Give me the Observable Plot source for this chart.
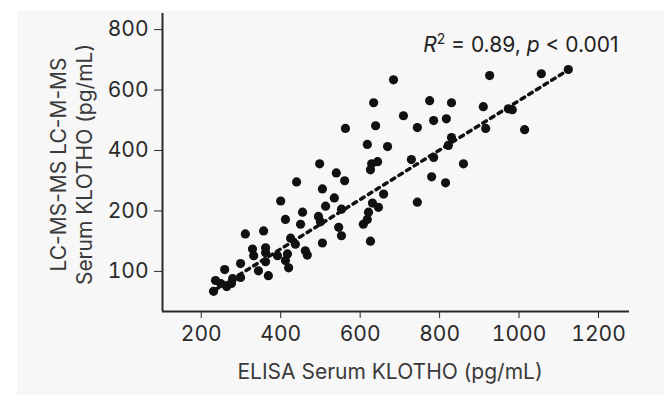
<!DOCTYPE html>
<html><head><meta charset="utf-8">
<script src="https://cdn.jsdelivr.net/npm/d3@7"></script>
<script src="https://cdn.jsdelivr.net/npm/@observablehq/plot@0.6"></script>
<style>
html,body{margin:0;padding:0;background:#fff;}
#wrap{position:relative;width:664px;height:396px;overflow:hidden;}
#panel{position:absolute;left:17px;top:11px;width:647px;height:384px;background:#f7f7f7;}
#chart{position:absolute;left:0;top:0;}
</style></head><body>
<div id="wrap"><div id="panel"></div><div id="chart"></div></div>
<script>
// ELISA (x) and LC-MS (y) serum KLOTHO, pg/mL
const elisa = [684,926,1056,1124,634,775,830,910,973,983,709,785,817,639,563,744,916,1014,618,669,
  830,822,498,629,644,626,729,785,860,540,561,780,815,440,505,659,535,744,400,513,
  553,631,646,621,618,608,553,626,455,412,495,500,450,546,311,357,425,437,505,329,
  362,332,362,392,417,462,467,412,420,299,344,362,369,299,279,259,264,249,236,231,276];
const lcms = [634,648,654,668,558,565,558,545,538,535,515,499,505,482,473,476,473,469,420,413,
  443,417,356,356,363,336,370,377,356,326,300,313,293,296,273,256,243,229,233,216,
  206,226,212,198,186,178,159,150,198,186,191,182,178,173,162,167,155,145,147,137,
  139,126,131,126,129,134,127,118,106,113,101,116,93,90,88,103,75,80,85,67,80];
// regression line end points
const fitX = [236, 1117];
const fitY = [70, 661];
const xTicks = [200, 400, 600, 800, 1000, 1200];
const yTicks = [100, 200, 400, 600, 800];
const xLabel = "ELISA Serum KLOTHO (pg/mL)";
const yLabel = "LC-MS-MS LC-M-MS\nSerum KLOTHO (pg/mL)";
const annotation = "R2 = 0.89, p < 0.001";

const points = elisa.map((x, i) => ({x, y: lcms[i]}));
const fit = fitX.map((x, i) => ({x, y: fitY[i]}));

const xDomain = [102.5, 1278];
// the y axis uses evenly spaced, non-linear tick values: piecewise-linear transform
const yIndex = d3.scaleLinear().domain(yTicks).range(d3.range(yTicks.length));
const yDomainRaw = [33.7, 853.3];

const chart = Plot.plot({
  width: 664,
  height: 396,
  marginLeft: 162,
  marginRight: 35,
  marginTop: 13,
  marginBottom: 85,
  style: {background: "transparent", fontFamily: "Inter, 'Liberation Sans', sans-serif", fontSize: "21px", color: "#2a2a2a"},
  x: {domain: xDomain, ticks: xTicks, tickSize: 7, tickPadding: 8, label: null, tickFormat: d => String(d)},
  y: {transform: v => yIndex(v), domain: yDomainRaw.map(v => yIndex(v)), ticks: yTicks.map(v => yIndex(v)),
      tickSize: 8, tickPadding: 6, label: null, tickFormat: d => String(Math.round(yIndex.invert(d)))},
  marks: [
    Plot.ruleX([xDomain[0]], {stroke: "#2a2a2a", strokeWidth: 2}),
    Plot.ruleY([yDomainRaw[0]], {stroke: "#2a2a2a", strokeWidth: 2}),
    Plot.line(fit, {x: "x", y: "y", stroke: "#111", strokeWidth: 3.5, strokeDasharray: "4,5"}),
    Plot.dot(points, {x: "x", y: "y", r: 4.6, fill: "#111", stroke: "none"}),
    Plot.text([xLabel], {frameAnchor: "bottom", lineAnchor: "bottom", dy: 67, dx: -6, fontSize: 21, fill: "#3a3a3a"}),
    Plot.text([yLabel], {frameAnchor: "left", textAnchor: "middle", lineAnchor: "middle", rotate: -90, dx: -92, dy: 2, fontSize: 21, lineHeight: 1.24, fill: "#3a3a3a"}),
    Plot.text([annotation], {frameAnchor: "top-right", textAnchor: "end", lineAnchor: "bottom", dx: -11, dy: 38, fontSize: 21, fill: "#222"})
  ]
});
document.getElementById("chart").appendChild(chart);

// rich formatting of the annotation: italic R and p, superscript 2
d3.select(chart).selectAll("text").filter(function () { return this.textContent === annotation; }).each(function () {
  const ann = d3.select(this);
  ann.text(null);
  ann.append("tspan").attr("font-style", "italic").text("R");
  ann.append("tspan").attr("dy", -8).attr("font-size", 14).text("2");
  ann.append("tspan").attr("dy", 8).text(" = 0.89, ");
  ann.append("tspan").attr("font-style", "italic").text("p");
  ann.append("tspan").text(" < 0.001");
});
</script>
</body></html>
